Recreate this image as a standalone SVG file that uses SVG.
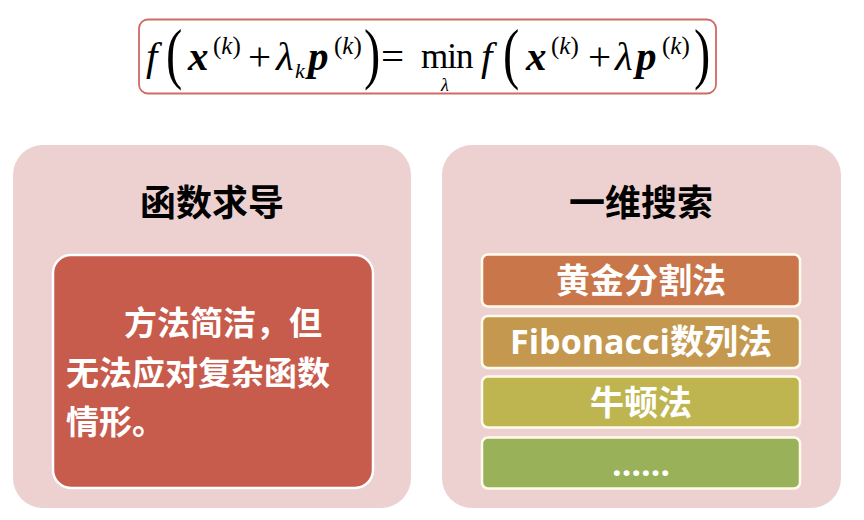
<svg xmlns="http://www.w3.org/2000/svg" width="864" height="520" viewBox="0 0 864 520">
<style>
.m{font-family:"Liberation Serif","Times New Roman",serif;fill:#000;}
.it{font-style:italic;}
.bi{font-style:italic;font-weight:bold;}
.big{font-family:"Liberation Serif",serif;font-size:68px;}
.panel{fill:#ecd1d0;}
.title{font-family:"Noto Sans CJK SC",sans-serif;font-weight:bold;font-size:36px;fill:#000;text-anchor:middle;dominant-baseline:central;}
.body{font-family:"Noto Sans CJK SC",sans-serif;font-weight:bold;font-size:33px;fill:#fff;}
.bar{stroke:#fffbea;stroke-width:2.5;}
.bt{font-family:"Open Sans","Noto Sans CJK SC",sans-serif;font-weight:bold;font-size:34px;fill:#fff;text-anchor:middle;dominant-baseline:central;}
</style>
<rect width="864" height="520" fill="#fff"/>
<g id="formula">
<rect x="139" y="19.5" width="577" height="74" rx="9" fill="#fff" stroke="#d06a64" stroke-width="1.8"/>
<g font-size="41">
<text class="m it" x="146" y="70">f</text>
<text class="big" transform="translate(166,76) scale(0.72,1)">(</text>
<text class="m bi" x="188" y="70">x</text>
<text class="m" x="213" y="54" font-size="25">(<tspan class="it">k</tspan>)</text>
<text class="m" x="248" y="70">+</text>
<text class="m it" x="276" y="70">λ</text>
<text class="m it" x="295" y="78" font-size="22">k</text>
<text class="m bi" x="308" y="70">p</text>
<text class="m" x="334" y="54" font-size="25">(<tspan class="it">k</tspan>)</text>
<text class="big" transform="translate(364,76) scale(0.72,1)">)</text>
<text class="m" x="381" y="70">=</text>
<text class="m" x="421" y="67.5" font-size="35" letter-spacing="-1">min</text>
<text class="m it" x="441" y="91" font-size="18">λ</text>
<text class="m it" x="481" y="70">f</text>
<text class="big" transform="translate(503,76) scale(0.72,1)">(</text>
<text class="m bi" x="526" y="70">x</text>
<text class="m" x="551" y="54" font-size="25">(<tspan class="it">k</tspan>)</text>
<text class="m" x="588" y="70">+</text>
<text class="m it" x="615" y="70">λ</text>
<text class="m bi" x="636" y="70">p</text>
<text class="m" x="662" y="54" font-size="25">(<tspan class="it">k</tspan>)</text>
<text class="big" transform="translate(694,76) scale(0.72,1)">)</text>
</g>
</g>
<g id="left-panel">
<rect class="panel" x="13" y="145" width="398" height="363" rx="30"/>
<text class="title" x="212" y="200">函数求导</text>
</g>
<g id="derivative-note">
<rect x="53" y="255" width="320" height="233" rx="18" fill="#c75b4c" stroke="#fff" stroke-width="2.5"/>
<text class="body" x="124" y="335">方法简洁，但</text>
<text class="body" x="66" y="385">无法应对复杂函数</text>
<text class="body" x="66" y="434">情形。</text>
</g>
<g id="right-panel">
<rect class="panel" x="442" y="145" width="399" height="363" rx="30"/>
<text class="title" x="641" y="200">一维搜索</text>
</g>
<g id="golden">
<rect class="bar" x="482" y="254.5" width="318" height="52" rx="6" fill="#c8764a"/>
<text class="bt" x="641" y="280">黄金分割法</text>
</g>
<g id="fibonacci">
<rect class="bar" x="482" y="316" width="318" height="52" rx="6" fill="#c4984e"/>
<text class="bt" x="641" y="341">Fibonacci数列法</text>
</g>
<g id="newton">
<rect class="bar" x="482" y="376.5" width="318" height="51" rx="6" fill="#bfb550"/>
<text class="bt" x="641" y="402">牛顿法</text>
</g>
<g id="more">
<rect class="bar" x="482" y="437.5" width="318" height="51" rx="6" fill="#99b158"/>
<text class="bt" x="641" y="463" font-family="Open Sans,sans-serif" font-size="33">……</text>
</g>
<g id="connectors"/>
</svg>
